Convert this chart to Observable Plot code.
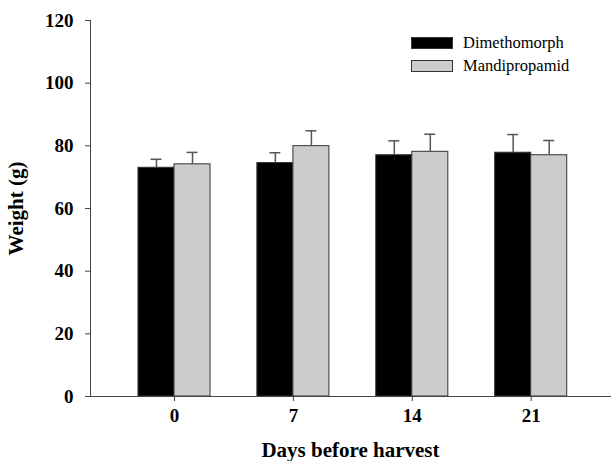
<!DOCTYPE html>
<html><head><meta charset="utf-8">
<script src="https://cdn.jsdelivr.net/npm/d3@7"></script>
<script src="https://cdn.jsdelivr.net/npm/@observablehq/plot@0.6"></script>
<style>
body{margin:0;background:#fff;}
#wrap{position:relative;width:612px;height:461px;font-family:"Liberation Serif","Times New Roman",serif;}
.legend{position:absolute;left:411px;top:31px;font-size:16.5px;color:#000;}
.item{display:flex;align-items:center;height:23px;}
.sw{width:42px;height:12px;border:1px solid #333;margin-right:10px;box-sizing:border-box}
</style></head><body><div id="wrap"></div>
<script>
const days = ["0", "7", "14", "21"];
const series = ["Dimethomorph", "Mandipropamid"];
const dimethomorphMean = [73.0, 74.5, 77.0, 77.8];
const dimethomorphSD = [2.7, 3.3, 4.6, 5.8];
const mandipropamidMean = [74.1, 79.9, 78.1, 77.0];
const mandipropamidSD = [3.8, 4.9, 5.6, 4.7];
const colors = ["#000000", "#cccccc"];
const yTicks = [0, 20, 40, 60, 80, 100, 120];

const barWidth = 0.303;  // fraction of one group step
const capHalf = 0.046;   // half width of error cap, same units

const data = [];
days.forEach((d, i) => {
  data.push({day: d, idx: i, s: 0, series: series[0], mean: dimethomorphMean[i], sd: dimethomorphSD[i]});
  data.push({day: d, idx: i, s: 1, series: series[1], mean: mandipropamidMean[i], sd: mandipropamidSD[i]});
});
const center = d => d.idx + (d.s - 0.5) * barWidth;

const chart = Plot.plot({
  width: 612,
  height: 461,
  marginLeft: 90,
  marginRight: 2,
  marginTop: 20,
  marginBottom: 65,
  style: {fontFamily: '"Liberation Serif","Times New Roman",serif', fontSize: "19px", fontWeight: "bold", color: "#000", background: "#fff"},
  x: {type: "linear", domain: [-0.7065, 3.667]},
  y: {domain: [0, 120]},
  color: {domain: series, range: colors},
  marks: [
    Plot.rectY(data, {x1: d => d.idx + (d.s - 1) * barWidth, x2: d => d.idx + d.s * barWidth, y: "mean", fill: "series", stroke: "#333", strokeWidth: 1}),
    Plot.ruleX(data, {x: center, y1: "mean", y2: d => d.mean + d.sd, stroke: "#555", strokeWidth: 1.5}),
    Plot.ruleY(data, {x1: d => center(d) - capHalf, x2: d => center(d) + capHalf, y: d => d.mean + d.sd, stroke: "#555", strokeWidth: 1.5}),
    Plot.frame({anchor: "left", stroke: "#444"}),
    Plot.frame({anchor: "bottom", stroke: "#444"}),
    Plot.axisY({ticks: yTicks, tickSize: 5, tickPadding: 12, stroke: "#444", label: null}),
    Plot.axisY({ticks: [], tickSize: 0, label: "Weight (g)", labelAnchor: "center", labelOffset: 82, labelArrow: false, fontSize: 21}),
    Plot.axisX({ticks: d3.range(days.length), tickFormat: i => days[i], tickSize: 5, tickPadding: 7, stroke: "#444", label: null}),
    Plot.axisX({ticks: [], tickSize: 0, label: "Days before harvest", labelAnchor: "center", labelOffset: 60, labelArrow: false, fontSize: 21})
  ]
});
const wrap = document.getElementById("wrap");
wrap.appendChild(chart);
const legend = document.createElement("div");
legend.className = "legend";
series.forEach((s, i) => {
  const item = document.createElement("div");
  item.className = "item";
  const sw = document.createElement("span");
  sw.className = "sw";
  sw.style.background = colors[i];
  const t = document.createElement("span");
  t.textContent = s;
  item.appendChild(sw);
  item.appendChild(t);
  legend.appendChild(item);
});
wrap.appendChild(legend);
</script></body></html>
